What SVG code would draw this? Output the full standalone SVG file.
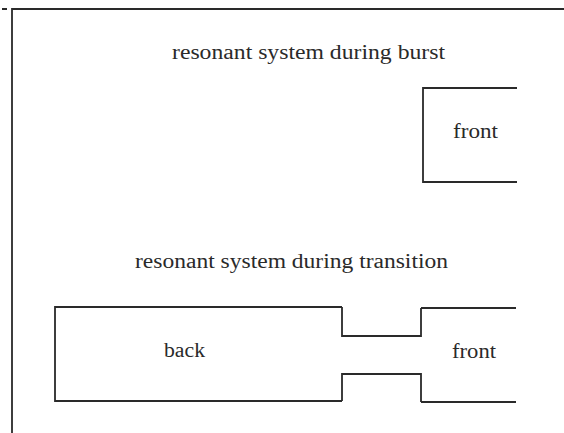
<svg xmlns="http://www.w3.org/2000/svg" width="564" height="433" viewBox="0 0 564 433">
<style>
.ln{fill:none;stroke:#2a2a2a;stroke-width:1.8;stroke-linejoin:miter}
.t{font-family:"Liberation Serif",serif;font-size:20px;fill:#2a2a2a}
</style>
<rect width="564" height="433" fill="#fff"/>
<g id="frame">
<path class="ln" d="M2,9 H7 M12,433 V9 H564"/>
</g>
<g id="title-burst"><text class="t" x="172" y="59" textLength="273" lengthAdjust="spacingAndGlyphs">resonant system during burst</text></g>
<g id="front-burst">
<path class="ln" d="M517,88 H423 V182 H517"/>
<text class="t" x="453" y="138" textLength="45" lengthAdjust="spacingAndGlyphs">front</text>
</g>
<g id="title-transition"><text class="t" x="135" y="268" textLength="313" lengthAdjust="spacingAndGlyphs">resonant system during transition</text></g>
<g id="back">
<path class="ln" d="M342,307 H55 V401 H342"/>
<text class="t" x="164" y="357" textLength="41" lengthAdjust="spacingAndGlyphs">back</text>
</g>
<g id="connectors">
<path class="ln" d="M342,307 V336 H421 V308 M342,401 V374 H421 V402"/>
</g>
<g id="front-transition">
<path class="ln" d="M421,308 H516 M421,402 H516"/>
<text class="t" x="452" y="358" textLength="44" lengthAdjust="spacingAndGlyphs">front</text>
</g>
</svg>
